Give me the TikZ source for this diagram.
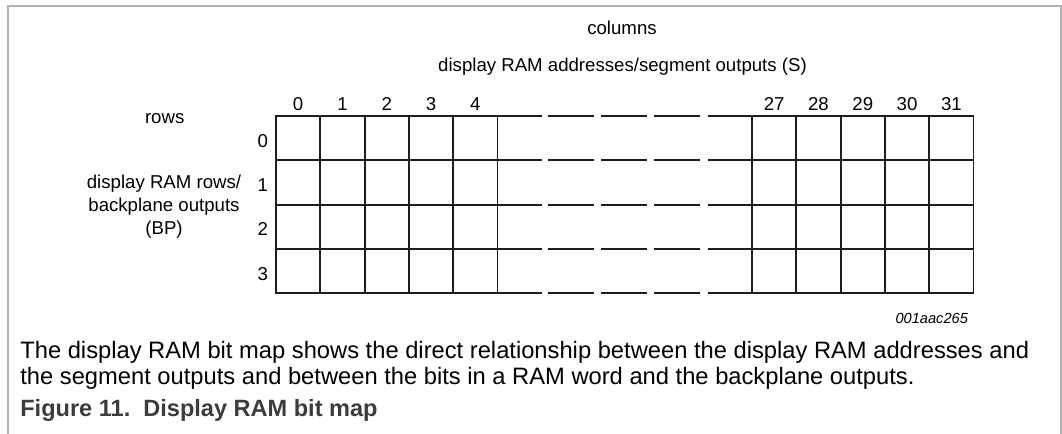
\documentclass[tikz,border=0pt]{standalone}
\usepackage{fontspec}
\setmainfont{Liberation Sans}
\usepackage{tikz}
\definecolor{framegray}{RGB}{178,178,178}
\definecolor{gridblack}{RGB}{30,30,30}
\definecolor{capgray}{RGB}{60,60,60}

\begin{document}
\begin{tikzpicture}[scale=0.2]
\tikzstyle{every node}+=[inner sep=0pt]
\tikzstyle{lbl}=[font=\fontsize{10.6}{13}\selectfont, anchor=base]
\tikzstyle{cell}=[gridblack, line width=1.1pt, line cap=rect]
\useasboundingbox (0,0) rectangle (106.2,-43.4);
% frame
\draw [framegray, line width=1.1pt] (0.8,-43.4) -- (0.8,-0.6) -- (106.1,-0.6) -- (106.1,-43.4);
% headings
\node [lbl] (columns) at (62.2,-3.44) {columns};
\node [lbl] (addr) at (62.25,-7.17) {display RAM addresses/segment outputs (S)};
\node [lbl] (rows) at (16.47,-12.32) {rows};
\node [font=\fontsize{10.6}{13}\selectfont, align=center] (bp) at (16.4,-20.7) {display RAM rows/\\backplane outputs\\(BP)};
% column and row numbers
\foreach \n [count=\i from 0] in {0,...,4}
  \node [lbl] (c\n) at (29.815+\i*4.43,-11.07) {\n};
\foreach \n [count=\i from 0] in {27,...,31}
  \node [lbl] (c\n) at (77.415+\i*4.43,-11.07) {\n};
\foreach \n in {0,...,3}
  \node [lbl] (r\n) at (26.28,-14.735-\n*4.43) {\n};
% bit map grid
\foreach \x in {27.6,32.03,36.46,40.89,45.32,49.75,75.2,79.63,84.06,88.49,92.92,97.35}
  \draw [cell] (\x,-11.6) -- (\x,-29.32);
\foreach \y in {-11.6,-16.03,-20.46,-24.89,-29.32} {
  \draw [cell] (27.6,\y) -- (54.1,\y);
  \draw [cell] (54.9,\y) -- (59.3,\y);
  \draw [cell] (60.2,\y) -- (64.6,\y);
  \draw [cell] (65.5,\y) -- (69.9,\y);
  \draw [cell] (70.9,\y) -- (97.35,\y);
}
\node [font=\fontsize{8.33}{10}\selectfont\itshape, anchor=base east] (figid) at (96.83,-32.36) {001aac265};
% description and caption
\node [font=\fontsize{13.5}{14.7}\selectfont, align=left, anchor=base west] (desc) at (2.0,-38.43) {The display RAM bit map shows the direct relationship between the display RAM addresses and\\the segment outputs and between the bits in a RAM word and the backplane outputs.};
\node [font=\fontsize{13.4}{16}\selectfont\bfseries, text=capgray, anchor=base west] (caption) at (2.0,-41.67) {Figure 11.\ \ Display RAM bit map};
\end{tikzpicture}
\end{document}
